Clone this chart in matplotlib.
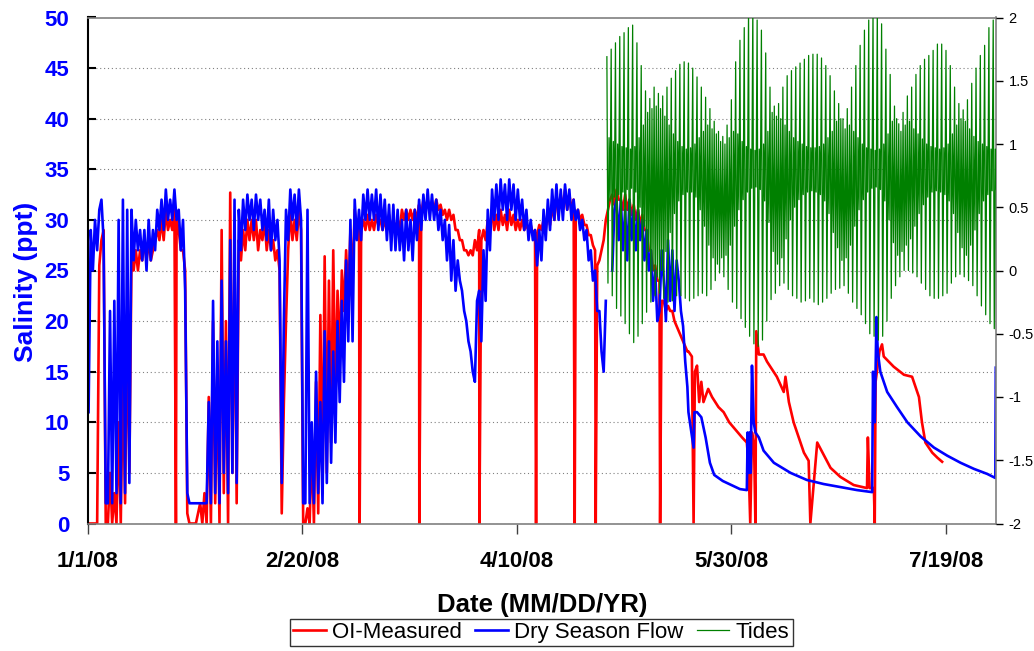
import numpy as np
import matplotlib
matplotlib.use("Agg")
from matplotlib import pyplot as plt

plt.rcParams['font.family'] = ['Liberation Sans', 'DejaVu Sans']

# x axis: days since 1/1/08
date_ticks = [0, 50, 100, 150, 200]
date_labels = ['1/1/08', '2/20/08', '4/10/08', '5/30/08', '7/19/08']

nan = np.nan

# two readings per day (morning / evening), days 0..139
blue_am = [11, 25, 27, 32, 2, 21, 22, 30, 32, 31,
           31, 30, 29, 29, 30, 29, 31, 32, 33, 32,
           33, 31, 30, 3, 2, 2, 2, 2, 12, 22,
           18, 24, 18, 28, 32, 31, 32, 32.5, 32, 32.5,
           32, 31, 32, 31, 30, 4, 31, 33, 32.5, 33,
           2, 31, 10, 15, 12, 19, 18, 17, 20, 22,
           26, 30, 32, 31, 32.5, 33, 32.5, 33, 32.5, 32,
           31.5, 31.5, 31, 30, 31, 30, 31, 32, 32.5, 33,
           32.5, 32, 31, 30, 29.5, 28, 26, 23, 20, 17,
           14, 23, 27, 31, 33, 33.5, 34, 33.5, 34, 33.5,
           33, 32, 31, 30, 29, 29, 31, 32, 33, 33.5,
           33, 33.5, 33, 32, 31, 30, 29, 27, 25, 21,
           15, nan, 25, 32, 32, 31, 32, 31, 31, 30,
           29, 27, 25, 21, 24, 28, 27, 26, 21, 16]
blue_pm = [29, 30, 31, 28, 2, 2, 3, 2, 3, 4,
           26, 27, 26, 25, 26, 27, 29, 29, 30, 30,
           30, 27, 23, 2, 2, 2, 2, 2, 2, 3,
           2, 5, 3, 5, 4, 27, 29, 30, 29, 30,
           29, 28, 27, 28, 26, 20, 28, 30, 29, 30,
           2, 2, 2, 3, 2, 4, 6, 8, 12, 14,
           18, 18, 28, 28, 30, 30, 30, 29, 29, 28,
           27, 27, 27, 26, 27, 26, 28, 29, 30, 30,
           30, 29, 28, 26, 24, 23, 24, 21, 18, 15,
           22, 18, 22, 27, 30, 30, 31, 30, 31, 30,
           30, 29, 28, 28, 25.5, 26, 28, 29, 30, 30,
           30, 31, 30, 30, 29, 28, 26, 24, 21, 17,
           22, nan, 31, 28, 27, 26, 28, 27, 28, 26,
           25, 22, 20, 27, 20, 22, 21, 24, 19.5, 13.5]
blue_tail_day = [140, 140.7, 141.2, 141.4, 142, 143, 144, 145, 146, 147,
                 148, 149, 150, 151, 152, 153.6, 153.8, 154.0, 154.3, 154.5,
                 154.8, 155.2, 155.6, 156.4, 157.5, 159.9, 163.8, 167.6, 171.5, 175.4,
                 179.3, 182.8, 183.0, 183.4, 183.8, 184.1, 184.7, 186.3, 188.6, 191,
                 194.1, 197.2, 200.3, 203.4, 206.5, 209.6, 211.5, 211.6]
blue_tail_ppt = [11, 9, 7.5, 11, 11, 10.5, 8.5, 6, 4.8, 4.5,
                 4.2, 4.0, 3.8, 3.6, 3.4, 3.3, 9, 5, 9, 5,
                 15.6, 10, 9, 8.5, 7.2, 6.0, 5.0, 4.3, 3.9, 3.6,
                 3.3, 3.1, 15, 10, 20.4, 17, 15, 13, 11.5, 10,
                 8.6, 7.5, 6.7, 6.0, 5.4, 4.9, 4.5, 15.4]

red_am = [0, 0, 0, 28, 0, 5, 3, 10, 15, 20,
          26, 27, 27, 28, 28, 27, 29, 30, 31, 30,
          31, 29, 27, 1, 0, 0, 2, 3, 12.5, 20,
          15, 29, 20, 32.7, 27, 28, 29, 30, 30, 30,
          29, 30, 29, 28, 27, 1, 20, 31, 30, 31,
          0, 1.5, 8, 14, 20.6, 26.4, 24, 27, 23, 25,
          27, 29, 31, 30, 30, 30.5, 30, 30.5, 30, 30,
          30.5, 30, 30, 31, 31, 31, 31, 31.5, 32, 32,
          31.5, 32, 31.5, 31, 31, 30.5, 29, 28, 27, 27,
          28, 29, 29, 30, 31, 30.5, 31, 30.5, 31, 30.5,
          30, 30, 29.5, 29.5, 29, 29.5, 30, 31, 31.5, 32,
          32.5, 33, 32.5, 32, 31, 30.5, 29.5, 28.5, 27, 26,
          28, 31, 32.5, 33, 32, 32.5, 32, 31.5, 31, 30.5,
          29, 27, 25.5, 24, 22, 21.5, 21, 19.5, 18.5, 17.5]
red_pm = [0, 0, 25.5, 29, 0, 0, 0, 0, 2, 5,
          25, 25, 26, 26, 26, 28, 28, 28, 29, 29,
          30, 27, 25, 0, 0, 1, 0, 0, 0, 2,
          0, 3, 0, 5, 2, 26, 27, 28, 28, 27,
          28, 27, 27, 26, 25, 12, 27, 28, 28, 29,
          0, 0, 0, 1, 3, 5, 8, 12, 16, 21,
          22, 24, 29, 29, 29, 29, 29, 29.5, 29, 29,
          29, 29, 29, 30, 30, 30, 30, 30.5, 31, 31,
          31, 31, 30.5, 30, 30, 29, 28, 27, 26.5, 26.5,
          27, 28, 28, 29, 29, 29, 29.5, 29, 29.5, 29,
          29, 29, 29, 28.5, 28.5, 29, 29, 29.5, 30, 31,
          31, 31, 31, 30.5, 30, 29.5, 28.5, 27.5, 25.5, 27,
          30, 32, 31.5, 32, 31, 31, 30.5, 30, 29.5, 29,
          27, 25, 24, 22, 21, 21, 20, 19, 18, 17]
red_tail_day = [140, 140.8, 141.5, 142, 142.5, 143, 143.5, 144.6, 145.5, 147,
                148.2, 149.5, 150.5, 151.5, 152.5, 153.6, 154.0, 154.8, 155.3, 155.8,
                156.4, 157.5, 158.3, 160.6, 162.2, 162.6, 163.4, 164.5, 165.7, 166.9,
                168, 170, 171.5, 173.1, 175.4, 178.5, 181.6, 181.8, 182.2, 183.2,
                183.6, 184.5, 185.1, 185.5, 187.8, 190.2, 192.1, 193.7, 194.4, 195.2,
                196.8, 198, 199.1]
red_tail_ppt = [17, 16.5, 15, 15.6, 12, 14, 12, 13.3, 12.5, 11.5,
                11, 10, 9.5, 9, 8.5, 8, 6, 9, 7.5, 19,
                16.7, 16.7, 16, 14.5, 13, 14.5, 12, 10, 8.5, 7,
                6.2, 8, 6.8, 5.5, 4.6, 3.8, 3.5, 8.5, 3.5, 3.5,
                14, 17, 17.7, 16.5, 15.5, 14.7, 14.5, 12.5, 10, 8,
                7, 6.5, 6.1]
# short instants where the OI record reads zero
red_zero_days = [20.6, 63.4, 77.3, 91.3, 104.5, 113.5, 118.4, 133.4,
                 141.2, 154.4, 155.6, 168.4, 183.4]

# tide extremes per day, days 121..211 (ft)
tide_hh = [1.69, 1.75, 1.80, 1.85, 1.88, 1.92, 1.94, 1.80, 1.62, 1.42,
           1.36, 1.45, 1.40, 1.38, 1.45, 1.52, 1.58, 1.63, 1.65, 1.64,
           1.60, 1.53, 1.45, 1.37, 1.28, 1.18, 1.10, 1.06, 1.15, 1.35,
           1.65, 1.82, 1.92, 2.05, 2.10, 1.98, 1.90, 1.72, 1.45, 1.30,
           1.32, 1.45, 1.54, 1.58, 1.61, 1.64, 1.67, 1.70, 1.71, 1.71,
           1.68, 1.62, 1.54, 1.42, 1.32, 1.20, 1.28, 1.45, 1.62, 1.78,
           1.90, 1.98, 2.05, 2.08, 1.95, 1.75, 1.55, 1.30, 1.16, 1.25,
           1.38, 1.45, 1.55, 1.62, 1.67, 1.70, 1.74, 1.79, 1.79, 1.74,
           1.62, 1.45, 1.32, 1.27, 1.35, 1.48, 1.60, 1.70, 1.78, 1.92,
           1.98]
tide_ll = [-0.10, -0.20, -0.30, -0.36, -0.42, -0.50, -0.57, -0.52, -0.42, -0.33,
           -0.25, -0.20, -0.18, -0.22, -0.25, -0.24, -0.20, -0.20, -0.22, -0.24,
           -0.22, -0.20, -0.18, -0.20, -0.15, -0.08, -0.02, -0.05, -0.15, -0.25,
           -0.30, -0.38, -0.45, -0.52, -0.58, -0.60, -0.55, -0.40, -0.23, -0.18,
           -0.12, -0.10, -0.15, -0.20, -0.22, -0.25, -0.24, -0.22, -0.25, -0.27,
           -0.25, -0.22, -0.18, -0.15, -0.14, -0.12, -0.18, -0.25, -0.30, -0.35,
           -0.42, -0.50, -0.52, -0.55, -0.52, -0.40, -0.22, -0.12, -0.05, 0.00,
           0.00, -0.02, -0.05, -0.10, -0.15, -0.20, -0.22, -0.22, -0.20, -0.18,
           -0.10, -0.05, -0.03, -0.05, -0.08, -0.12, -0.20, -0.28, -0.35, -0.42,
           -0.46]
tide_lh = [1.05, 1.02, 1.00, 0.98, 0.97, 0.96, 0.98, 1.05, 1.15, 1.25,
           1.28, 1.30, 1.28, 1.22, 1.15, 1.08, 1.02, 0.98, 0.96, 0.97,
           1.00, 1.05, 1.10, 1.15, 1.12, 1.08, 1.02, 1.00, 1.05, 1.10,
           1.08, 1.02, 0.98, 0.96, 0.95, 0.96, 1.00, 1.10, 1.25, 1.22,
           1.20, 1.15, 1.10, 1.05, 1.02, 1.00, 0.98, 0.97, 0.97, 0.98,
           1.00, 1.05, 1.10, 1.18, 1.20, 1.12, 1.15, 1.10, 1.05, 1.00,
           0.97, 0.96, 0.95, 0.96, 1.00, 1.08, 1.18, 1.20, 1.10, 1.15,
           1.18, 1.12, 1.08, 1.04, 1.00, 0.98, 0.97, 0.96, 0.97, 1.00,
           1.08, 1.15, 1.20, 1.18, 1.12, 1.06, 1.02, 1.00, 0.98, 0.96,
           0.96]
tide_hl = [0.55, 0.58, 0.60, 0.62, 0.64, 0.65, 0.62, 0.50, 0.35, 0.15,
           0.00, -0.05, 0.00, 0.15, 0.30, 0.45, 0.55, 0.60, 0.62, 0.62,
           0.58, 0.48, 0.35, 0.20, 0.10, 0.05, 0.10, 0.12, 0.20, 0.35,
           0.48, 0.56, 0.62, 0.65, 0.66, 0.64, 0.55, 0.38, 0.15, 0.05,
           0.10, 0.25, 0.40, 0.50, 0.56, 0.60, 0.62, 0.63, 0.62, 0.60,
           0.55, 0.45, 0.30, 0.18, 0.08, 0.10, 0.20, 0.35, 0.48, 0.56,
           0.62, 0.65, 0.66, 0.64, 0.55, 0.40, 0.22, 0.12, 0.15, 0.20,
           0.25, 0.35, 0.45, 0.52, 0.58, 0.62, 0.63, 0.62, 0.60, 0.55,
           0.45, 0.30, 0.18, 0.12, 0.20, 0.32, 0.45, 0.55, 0.60, 0.63,
           0.64]
tide_start_day = 121


def salinity_trace(am, pm, tail_day, tail_ppt, zero_days=()):
    n = len(am)
    t = np.concatenate([np.arange(n) + 0.25, np.arange(n) + 0.75, tail_day, zero_days])
    v = np.concatenate([am, pm, tail_ppt, np.zeros(len(zero_days))])
    order = np.argsort(t, kind='stable')
    return t[order], v[order]


red_t, red_v = salinity_trace(red_am, red_pm, red_tail_day, red_tail_ppt, red_zero_days)
blue_t, blue_v = salinity_trace(blue_am, blue_pm, blue_tail_day, blue_tail_ppt)

# tide: HH, LL, LH, HL each day
ndays = len(tide_hh)
tide_t = (np.arange(ndays)[:, None] + tide_start_day + np.array([0, 0.25, 0.5, 0.75])).ravel()
tide_v = np.column_stack([tide_hh, tide_ll, tide_lh, tide_hl]).ravel()

fig = plt.figure(figsize=(10.34, 6.51), dpi=100)
ax = fig.add_axes([87.5 / 1034, 1 - 523.5 / 651, (996 - 87.5) / 1034, (523.5 - 17.5) / 651])

ax.yaxis.grid(True, linestyle=(0, (1, 2.5)), color='#808080', linewidth=0.8)
ax.set_axisbelow(True)

l_red, = ax.plot(red_t, red_v, color='#ff0000', linewidth=1.9, label='OI-Measured')
l_blue, = ax.plot(blue_t, blue_v, color='#0000ff', linewidth=1.9, label='Dry Season Flow')

ax.set_xlim(0, 211.65)
ax.set_ylim(0, 50)
ax.set_yticks(np.arange(0, 51, 5))
ax.set_xticks(date_ticks)
ax.set_xticklabels(date_labels)

for lab in ax.get_yticklabels():
    lab.set_fontweight('bold')
ax.tick_params(axis='y', direction='in', length=6, width=1.5, pad=13,
               labelsize=16, labelcolor='#0000ff')
ax.tick_params(axis='x', direction='out', length=7, width=1, color='#404040', pad=13,
               labelsize=16)
for lab in ax.get_xticklabels():
    lab.set_fontweight('bold')

ax.spines['left'].set_linewidth(1.5)
ax.spines['left'].set_color('black')
for s in ['top', 'right', 'bottom']:
    ax.spines[s].set_color('#808080')
    ax.spines[s].set_linewidth(1.2)

ax.set_ylabel('Salinity (ppt)', fontsize=19, fontweight='bold', color='#0000ff')
ax.yaxis.set_label_coords(-0.054, 0.477)
ax.set_xlabel('Date (MM/DD/YR)', fontsize=18.5, fontweight='bold', labelpad=15)

ax2 = ax.twinx()
l_tide, = ax2.plot(tide_t, tide_v, color='#008000', linewidth=0.9, label='Tides')
ax2.set_ylim(-2, 2)
ax2.set_yticks(np.arange(-2, 2.01, 0.5))
ax2.set_yticklabels(['-2', '-1.5', '-1', '-0.5', '0', '0.5', '1', '1.5', '2'])
ax2.tick_params(axis='y', direction='out', length=5, width=1, pad=4, labelsize=10.5)
for s in ['top', 'right', 'bottom', 'left']:
    ax2.spines[s].set_visible(False)

leg = fig.legend(handles=[l_red, l_blue, l_tide], loc='upper center',
                 bbox_to_anchor=(541.5 / 1034, 1 - 618.5 / 651), ncol=3,
                 fontsize=16, frameon=True, fancybox=False, edgecolor='black',
                 handlelength=1.45, handletextpad=0.3, columnspacing=0.6,
                 borderpad=0.15, borderaxespad=0)
leg.get_frame().set_linewidth(1.0)

fig.savefig('out.png', dpi=100)
